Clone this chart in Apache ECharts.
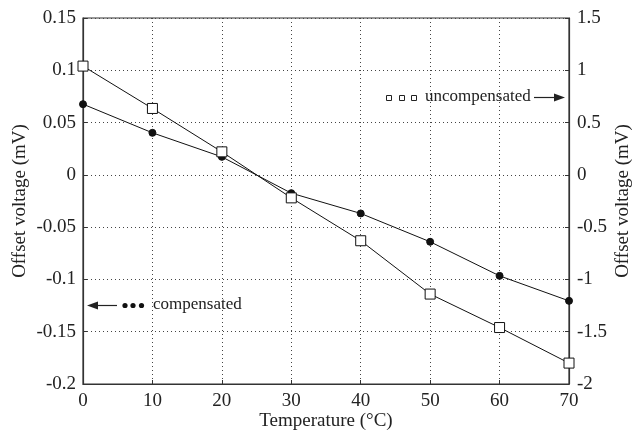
<!DOCTYPE html>
<html><head><meta charset="utf-8">
<script src="https://cdn.jsdelivr.net/npm/echarts@6/dist/echarts.min.js"></script>
<style>html,body{margin:0;padding:0;background:#fff}#c{width:632px;height:431px}</style>
</head><body><div id="c"></div>
<script>
const temperatures = [0, 10, 20, 30, 40, 50, 60, 70];
const compensated = [0.0676, 0.0402, 0.0172, -0.0175, -0.0369, -0.064, -0.0966, -0.1205];
const uncompensated = [1.04, 0.635, 0.22, -0.22, -0.63, -1.14, -1.46, -1.80];
const xTitle = 'Temperature (°C)';
const yTitle = 'Offset voltage (mV)';

const FONT = '"Liberation Serif", "Times New Roman", serif';
const INK = '#222';
const chart = echarts.init(document.getElementById('c'), null, {renderer: 'canvas'});
const fmt = v => String(+v.toFixed(2));
chart.setOption({
  animation: false,
  backgroundColor: '#fff',
  textStyle: {fontFamily: FONT, color: INK},
  grid: {left: 83, right: 63, top: 18, bottom: 47, containLabel: false, outerBoundsMode: 'none',
         show: true, borderColor: '#333', borderWidth: 1.2, backgroundColor: 'transparent'},
  xAxis: {
    type: 'value', min: 0, max: 70, interval: 10,
    name: xTitle, nameLocation: 'middle', nameGap: 28, nameMoveOverlap: false,
    nameTextStyle: {fontFamily: FONT, fontSize: 19, color: INK},
    axisLine: {show: true, onZero: false, lineStyle: {color: '#333', width: 1.2}},
    axisTick: {show: true, inside: true, length: 4, lineStyle: {color: '#333'}},
    axisLabel: {fontFamily: FONT, fontSize: 19, color: INK, margin: 8},
    splitLine: {show: true, lineStyle: {color: '#444', type: [1, 3], width: 1}}
  },
  yAxis: [{
    type: 'value', min: -0.2, max: 0.15, interval: 0.05, position: 'left',
    name: yTitle, nameLocation: 'middle', nameGap: 53, nameRotate: 90, nameMoveOverlap: false,
    nameTextStyle: {fontFamily: FONT, fontSize: 19, color: INK},
    axisLine: {show: true, onZero: false, lineStyle: {color: '#333', width: 1.2}},
    axisTick: {show: true, inside: true, length: 4, lineStyle: {color: '#333'}},
    axisLabel: {fontFamily: FONT, fontSize: 19, color: INK, margin: 7, formatter: fmt},
    splitLine: {show: true, lineStyle: {color: '#444', type: [1, 3], width: 1}}
  }, {
    type: 'value', min: -2, max: 1.5, interval: 0.5, position: 'right',
    name: yTitle, nameLocation: 'middle', nameGap: 45, nameRotate: 90, nameMoveOverlap: false,
    nameTextStyle: {fontFamily: FONT, fontSize: 19, color: INK},
    axisLine: {show: true, onZero: false, lineStyle: {color: '#333', width: 1.2}},
    axisTick: {show: true, inside: true, length: 4, lineStyle: {color: '#333'}},
    axisLabel: {fontFamily: FONT, fontSize: 19, color: INK, margin: 8, formatter: fmt},
    splitLine: {show: false}
  }],
  series: [{
    name: 'compensated', type: 'line', yAxisIndex: 0,
    data: temperatures.map((t, i) => [t, compensated[i]]),
    symbol: 'circle', symbolSize: 7,
    itemStyle: {color: '#111', borderColor: '#111'},
    lineStyle: {color: '#111', width: 1}, z: 3
  }, {
    name: 'uncompensated', type: 'line', yAxisIndex: 1,
    data: temperatures.map((t, i) => [t, uncompensated[i]]),
    symbol: 'rect', symbolSize: 10,
    itemStyle: {color: '#fff', borderColor: '#111', borderWidth: 1},
    lineStyle: {color: '#111', width: 1}, z: 4
  }],
  graphic: [
    {type: 'rect', shape: {x: 386.5, y: 95.5, width: 5, height: 5}, style: {fill: '#fff', stroke: '#222', lineWidth: 1}},
    {type: 'rect', shape: {x: 399.5, y: 95.5, width: 5, height: 5}, style: {fill: '#fff', stroke: '#222', lineWidth: 1}},
    {type: 'rect', shape: {x: 411.5, y: 95.5, width: 5, height: 5}, style: {fill: '#fff', stroke: '#222', lineWidth: 1}},
    {type: 'text', x: 425, y: 97, style: {text: 'uncompensated', font: '17px ' + FONT, fill: INK, textVerticalAlign: 'middle', verticalAlign: 'middle'}},
    {type: 'line', shape: {x1: 534, y1: 97.5, x2: 556, y2: 97.5}, style: {stroke: '#222', lineWidth: 1.2}},
    {type: 'polygon', shape: {points: [[565, 97.5], [554, 93.5], [554, 101.5]]}, style: {fill: '#222'}},
    {type: 'polygon', shape: {points: [[87, 305.5], [98, 301.5], [98, 309.5]]}, style: {fill: '#222'}},
    {type: 'line', shape: {x1: 96, y1: 305.5, x2: 117, y2: 305.5}, style: {stroke: '#222', lineWidth: 1.2}},
    {type: 'circle', shape: {cx: 125, cy: 305.5, r: 2.6}, style: {fill: '#111'}},
    {type: 'circle', shape: {cx: 133, cy: 305.5, r: 2.6}, style: {fill: '#111'}},
    {type: 'circle', shape: {cx: 141.5, cy: 305.5, r: 2.6}, style: {fill: '#111'}},
    {type: 'text', x: 153, y: 305, style: {text: 'compensated', font: '17px ' + FONT, fill: INK, textVerticalAlign: 'middle', verticalAlign: 'middle'}}
  ]
});
</script></body></html>
